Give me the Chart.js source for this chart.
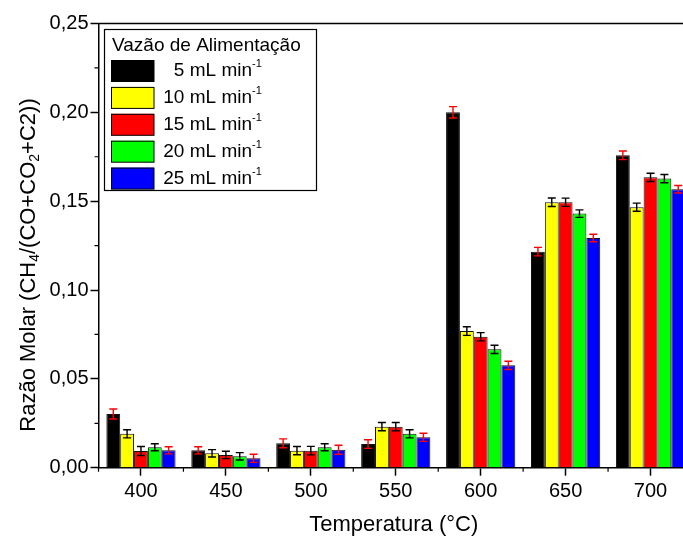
<!DOCTYPE html>
<html>
<head>
<meta charset="utf-8">
<script src="https://cdn.jsdelivr.net/npm/chart.js@4.4.1/dist/chart.umd.min.js"></script>
<style>
  html, body { margin: 0; padding: 0; background: #ffffff; overflow: hidden; }
  #wrap { width: 700px; height: 538px; position: relative; }
</style>
</head>
<body>
<div id="wrap"><canvas id="chart"></canvas></div>
<script>
// Reaction temperature (°C) — one group of bars per temperature
const temperatures = ['400', '450', '500', '550', '600', '650', '700'];

// Feed flow rates (legend entries; the "-1" exponent is drawn as a superscript)
const flowLabels = ['5 mL min', '10 mL min', '15 mL min', '20 mL min', '25 mL min'];
const flowExponent = '-1';

// Molar ratio CH4/(CO+CO2+C2) for each feed flow rate
const flow5  = [0.0302, 0.0098, 0.0137, 0.0133, 0.2000, 0.1216, 0.1758];
const flow10 = [0.0191, 0.0081, 0.0096, 0.0231, 0.0769, 0.1494, 0.1466];
const flow15 = [0.0094, 0.0072, 0.0096, 0.0231, 0.0737, 0.1494, 0.1634];
const flow20 = [0.0115, 0.0064, 0.0115, 0.0191, 0.0666, 0.1430, 0.1627];
const flow25 = [0.0098, 0.0053, 0.0101, 0.0171, 0.0576, 0.1293, 0.1567];

// Standard deviations (error bar half-heights)
const err5  = [0.0028, 0.0020, 0.0025, 0.0024, 0.0032, 0.0024, 0.0024];
const err10 = [0.0023, 0.0021, 0.0023, 0.0023, 0.0024, 0.0024, 0.0023];
const err15 = [0.0025, 0.0021, 0.0024, 0.0023, 0.0023, 0.0023, 0.0023];
const err20 = [0.0020, 0.0021, 0.0020, 0.0023, 0.0023, 0.0021, 0.0023];
const err25 = [0.0020, 0.0023, 0.0025, 0.0023, 0.0023, 0.0021, 0.0021];

// Y axis ticks
const yTicks = [0, 0.05, 0.10, 0.15, 0.20, 0.25];

// Texts
const legendTitle = 'Vazão de Alimentação';
const xTitle = 'Temperatura (°C)';
const yTitleParts = [
  { text: 'Razão Molar (CH' }, { text: '4', sub: true },
  { text: '/(CO+CO' }, { text: '2', sub: true },
  { text: '+C2))' }
];

// Styling
const barColors = ['#000000', '#ffff00', '#ff0000', '#00ff00', '#0000ff'];
const errColors = ['#ff0000', '#000000', '#000000', '#000000', '#ff0000'];
const FONT = '"Liberation Sans", Arial, Helvetica, sans-serif';

const seriesValues = [flow5, flow10, flow15, flow20, flow25];
const seriesErrors = [err5, err10, err15, err20, err25];

const datasets = seriesValues.map((vals, i) => ({
  label: flowLabels[i],
  data: vals,
  errors: seriesErrors[i],
  errorColor: errColors[i],
  backgroundColor: barColors[i],
  borderColor: '#111111',
  borderWidth: 1,
  borderSkipped: 'bottom',
  categoryPercentage: 0.815,
  barPercentage: 1.0
}));

// Error bars with caps
const errorBars = {
  id: 'errorBars',
  afterDatasetsDraw(chart) {
    const ctx = chart.ctx;
    const ys = chart.scales.y;
    ctx.save();
    chart.data.datasets.forEach((ds, i) => {
      const meta = chart.getDatasetMeta(i);
      meta.data.forEach((bar, j) => {
        const v = ds.data[j], e = ds.errors[j];
        const top = ys.getPixelForValue(v + e);
        const bot = ys.getPixelForValue(v - e);
        const x = bar.x, cap = 4;
        ctx.strokeStyle = ds.errorColor;
        ctx.lineWidth = 1.4;
        ctx.beginPath();
        ctx.moveTo(x, top); ctx.lineTo(x, bot);
        ctx.moveTo(x - cap, top); ctx.lineTo(x + cap, top);
        ctx.moveTo(x - cap, bot); ctx.lineTo(x + cap, bot);
        ctx.stroke();
      });
    });
    ctx.restore();
  }
};

// Frame top line, minor ticks, axis titles and the boxed legend
const decorations = {
  id: 'decorations',
  afterDraw(chart) {
    const ctx = chart.ctx;
    const area = chart.chartArea;
    const xs = chart.scales.x, ys = chart.scales.y;
    ctx.save();
    ctx.strokeStyle = '#000';
    ctx.lineWidth = 1.5;

    // top frame line
    ctx.beginPath();
    ctx.moveTo(area.left, area.top);
    ctx.lineTo(area.right + 10, area.top);
    ctx.stroke();

    // minor ticks on x (between groups) and y (half steps)
    ctx.lineWidth = 1.2;
    ctx.beginPath();
    for (let i = 0; i <= temperatures.length; i++) {
      const px = xs.getPixelForValue(i - 0.5);
      ctx.moveTo(px, area.bottom);
      ctx.lineTo(px, area.bottom + 4);
    }
    for (let k = 0; k < yTicks.length - 1; k++) {
      const py = ys.getPixelForValue((yTicks[k] + yTicks[k + 1]) / 2);
      ctx.moveTo(area.left, py);
      ctx.lineTo(area.left - 4, py);
    }
    ctx.stroke();

    // x title
    ctx.fillStyle = '#000';
    ctx.font = '22px ' + FONT;
    ctx.textAlign = 'center';
    ctx.textBaseline = 'middle';
    ctx.fillText(xTitle, (area.left + area.right) / 2 - 2, 525);

    // y title with subscripts
    const mainFont = '22px ' + FONT, subFont = '14px ' + FONT;
    let total = 0;
    yTitleParts.forEach(p => {
      ctx.font = p.sub ? subFont : mainFont;
      total += ctx.measureText(p.text).width;
    });
    ctx.translate(27, 265);
    ctx.rotate(-Math.PI / 2);
    ctx.textAlign = 'left';
    ctx.textBaseline = 'alphabetic';
    let cx = -total / 2;
    yTitleParts.forEach(p => {
      ctx.font = p.sub ? subFont : mainFont;
      ctx.fillText(p.text, cx, p.sub ? 12 : 8);
      cx += ctx.measureText(p.text).width;
    });
    ctx.setTransform(1, 0, 0, 1, 0, 0);

    // legend box
    const L = { x: 104.5, y: 29.5, w: 212, h: 161 };
    ctx.fillStyle = '#ffffff';
    ctx.fillRect(L.x, L.y, L.w, L.h);
    ctx.strokeStyle = '#000';
    ctx.lineWidth = 1.2;
    ctx.strokeRect(L.x, L.y, L.w, L.h);

    ctx.fillStyle = '#000';
    ctx.font = '19px ' + FONT;
    ctx.textAlign = 'left';
    ctx.textBaseline = 'middle';
    ctx.fillText(legendTitle, 112, 46);

    chart.data.datasets.forEach((ds, i) => {
      const rowY = 60 + i * 26.9;
      ctx.fillStyle = ds.backgroundColor;
      ctx.fillRect(111, rowY, 43, 21.5);
      ctx.strokeStyle = '#000';
      ctx.lineWidth = 1;
      ctx.strokeRect(111.5, rowY + 0.5, 42.5, 21);
      const midY = rowY + 11;
      ctx.fillStyle = '#000';
      ctx.font = '19px ' + FONT;
      ctx.textAlign = 'right';
      ctx.textBaseline = 'middle';
      ctx.fillText(ds.label, 252, midY);
      ctx.font = '11px ' + FONT;
      ctx.textAlign = 'left';
      ctx.fillText(flowExponent, 252, midY - 7);
    });

    ctx.restore();
  }
};

new Chart(document.getElementById('chart'), {
  type: 'bar',
  data: { labels: temperatures, datasets },
  options: {
    responsive: true,
    maintainAspectRatio: false,
    animation: false,
    layout: { padding: { top: 23.5, right: 7, left: 0, bottom: 0 } },
    plugins: { legend: { display: false }, tooltip: { enabled: false } },
    scales: {
      x: {
        type: 'category',
        offset: true,
        grid: {
          offset: false, drawOnChartArea: false, drawTicks: true,
          tickLength: 8, tickColor: '#000', tickWidth: 1.5
        },
        border: { display: true, color: '#000', width: 1.5 },
        ticks: { color: '#000', font: { family: FONT, size: 20 }, padding: 4, maxRotation: 0 },
        afterFit(s) { s.height = 70.3; }
      },
      y: {
        min: 0, max: 0.25,
        afterBuildTicks(s) { s.ticks = yTicks.map(v => ({ value: v })); },
        grid: {
          drawOnChartArea: false, drawTicks: true,
          tickLength: 8, tickColor: '#000', tickWidth: 1.5
        },
        border: { display: true, color: '#000', width: 1.5 },
        ticks: {
          color: '#000', font: { family: FONT, size: 20 }, padding: 2,
          callback: v => v.toFixed(2).replace('.', ',')
        },
        afterFit(s) { s.width = 98.5; }
      }
    }
  },
  plugins: [errorBars, decorations]
});
</script>
</body>
</html>
